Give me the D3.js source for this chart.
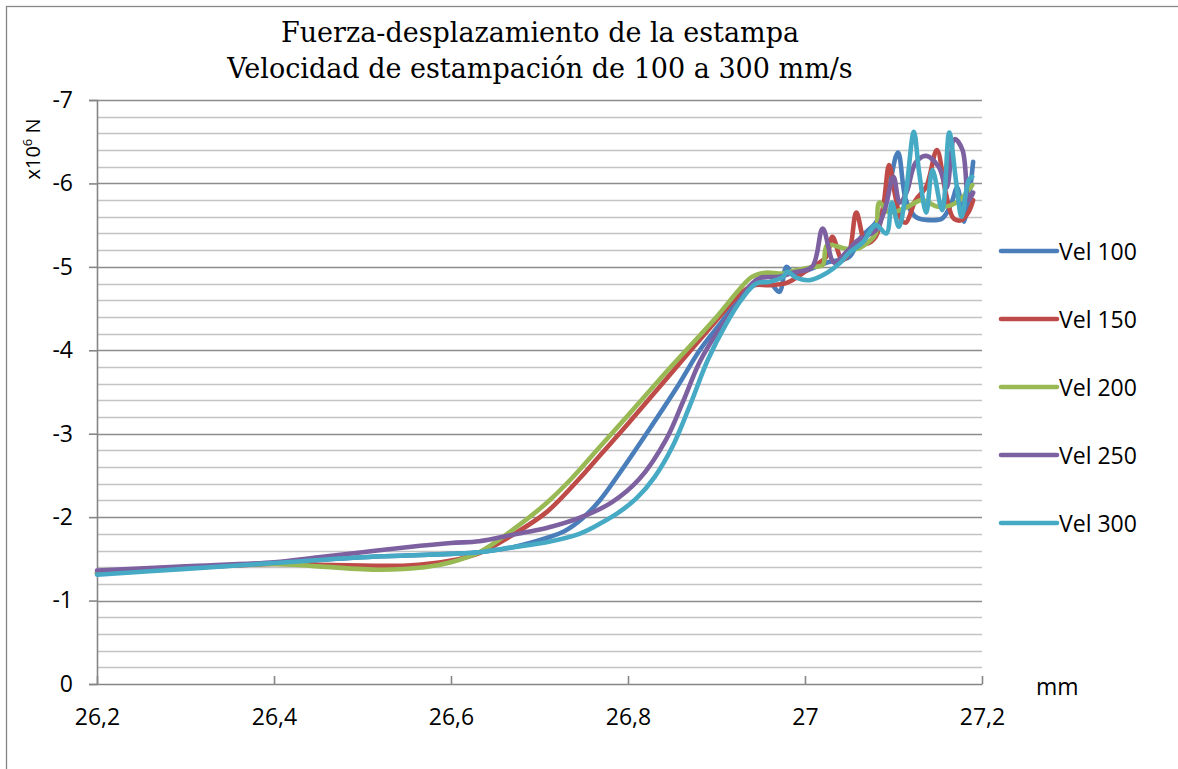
<!DOCTYPE html>
<html>
<head>
<meta charset="utf-8">
<script src="https://cdn.jsdelivr.net/npm/d3@7/dist/d3.min.js"></script>
<style>
  html, body { margin: 0; padding: 0; background: #fff; }
  svg { display: block; }
</style>
</head>
<body>
<svg id="chart" width="1178" height="769"></svg>
<script>
// Stamp force vs. displacement, one series per stamping speed (mm, x10^6 N)
const vel100 = [[26.20,-1.33],[26.30,-1.39],[26.40,-1.45],[26.50,-1.52],[26.55,-1.54],[26.60,-1.56],[26.632,-1.58],[26.67,-1.64],[26.708,-1.75],[26.728,-1.83],[26.748,-1.98],[26.768,-2.20],[26.79,-2.52],[26.824,-3.05],[26.855,-3.55],[26.881,-4.00],[26.905,-4.33],[26.926,-4.62],[26.945,-4.80],[26.96,-4.81],[26.971,-4.70],[26.979,-5.00],[26.986,-4.93],[27.00,-4.95],[27.024,-5.05],[27.05,-5.12],[27.062,-5.34],[27.08,-5.53],[27.09,-5.72],[27.105,-6.37],[27.114,-5.80],[27.125,-5.60],[27.14,-5.56],[27.155,-5.58],[27.165,-5.75],[27.172,-5.95],[27.18,-5.54],[27.19,-6.26]];
const vel150 = [[26.20,-1.33],[26.30,-1.39],[26.40,-1.44],[26.45,-1.43],[26.50,-1.42],[26.55,-1.42],[26.60,-1.48],[26.632,-1.57],[26.67,-1.79],[26.708,-2.06],[26.745,-2.46],[26.77,-2.76],[26.80,-3.12],[26.85,-3.74],[26.90,-4.36],[26.925,-4.66],[26.942,-4.78],[26.96,-4.78],[26.98,-4.81],[27.005,-4.98],[27.024,-5.12],[27.031,-5.36],[27.042,-5.08],[27.05,-5.18],[27.058,-5.65],[27.069,-5.28],[27.08,-5.36],[27.089,-5.77],[27.095,-6.22],[27.102,-5.85],[27.109,-5.56],[27.114,-5.53],[27.125,-5.80],[27.137,-5.96],[27.149,-6.40],[27.159,-5.89],[27.168,-5.58],[27.177,-5.56],[27.185,-5.66],[27.19,-5.80]];
const vel200 = [[26.20,-1.33],[26.30,-1.39],[26.40,-1.44],[26.45,-1.41],[26.52,-1.37],[26.57,-1.40],[26.60,-1.46],[26.632,-1.58],[26.67,-1.85],[26.708,-2.17],[26.736,-2.46],[26.768,-2.84],[26.80,-3.22],[26.85,-3.82],[26.90,-4.40],[26.925,-4.72],[26.94,-4.88],[26.955,-4.93],[26.975,-4.92],[26.99,-4.96],[27.01,-5.00],[27.02,-5.02],[27.025,-5.26],[27.045,-5.22],[27.06,-5.22],[27.072,-5.30],[27.08,-5.40],[27.084,-5.77],[27.095,-5.65],[27.114,-5.71],[27.132,-5.80],[27.151,-5.72],[27.171,-5.77],[27.189,-5.98]];
const vel250 = [[26.20,-1.36],[26.30,-1.41],[26.40,-1.46],[26.45,-1.52],[26.50,-1.58],[26.55,-1.64],[26.60,-1.69],[26.632,-1.71],[26.67,-1.79],[26.708,-1.87],[26.745,-1.99],[26.782,-2.18],[26.813,-2.46],[26.843,-2.93],[26.862,-3.38],[26.881,-3.86],[26.90,-4.20],[26.92,-4.50],[26.94,-4.80],[26.95,-4.87],[26.971,-4.88],[26.986,-4.93],[27.008,-5.00],[27.02,-5.46],[27.033,-5.05],[27.046,-5.17],[27.06,-5.32],[27.08,-5.44],[27.09,-5.68],[27.10,-6.08],[27.107,-5.77],[27.115,-5.90],[27.125,-6.25],[27.137,-6.33],[27.151,-6.20],[27.16,-5.95],[27.169,-6.53],[27.178,-6.40],[27.185,-5.80],[27.19,-5.89]];
const vel300 = [[26.20,-1.31],[26.30,-1.38],[26.40,-1.45],[26.50,-1.52],[26.55,-1.54],[26.60,-1.56],[26.632,-1.58],[26.67,-1.64],[26.708,-1.70],[26.745,-1.80],[26.768,-1.92],[26.79,-2.06],[26.81,-2.23],[26.83,-2.48],[26.85,-2.84],[26.87,-3.34],[26.89,-3.88],[26.91,-4.30],[26.929,-4.62],[26.945,-4.80],[26.96,-4.82],[26.975,-4.88],[26.98,-4.94],[26.99,-4.87],[27.005,-4.84],[27.025,-4.93],[27.04,-5.05],[27.05,-5.17],[27.065,-5.29],[27.08,-5.50],[27.092,-5.40],[27.098,-5.77],[27.106,-5.48],[27.114,-5.89],[27.123,-6.62],[27.129,-6.13],[27.137,-5.65],[27.144,-6.16],[27.155,-5.68],[27.163,-6.61],[27.171,-6.00],[27.177,-5.60],[27.185,-6.04],[27.189,-6.08]];

const seriesNames = ["Vel 100", "Vel 150", "Vel 200", "Vel 250", "Vel 300"];
const seriesColors = ["#4A7EBB", "#BE4B48", "#98B954", "#7D60A0", "#46AAC5"];

const xTicks = [26.2, 26.4, 26.6, 26.8, 27.0, 27.2];
const xTickLabels = ["26,2", "26,4", "26,6", "26,8", "27", "27,2"];
const yTicks = [0, -1, -2, -3, -4, -5, -6, -7];
const yTickLabels = ["0", "-1", "-2", "-3", "-4", "-5", "-6", "-7"];
const yMinorStep = 0.2;

const titleLines = ["Fuerza-desplazamiento de la estampa", "Velocidad de estampación de 100 a 300 mm/s"];
const xAxisTitle = "mm";

const svg = d3.select("#chart");
const W = 1178, H = 769;
const plot = { left: 97, right: 982, top: 100, bottom: 684 };
const sansFont = "'Open Sans', 'Liberation Sans', sans-serif";
const axisGrey = "#868686";

// outer chart frame
svg.append("rect")
  .attr("x", 6.5).attr("y", 6.5)
  .attr("width", W + 20).attr("height", H + 20)
  .attr("fill", "#fff").attr("stroke", axisGrey).attr("stroke-width", 1.3);

const x = d3.scaleLinear().domain([26.2, 27.2]).range([plot.left, plot.right]);
const y = d3.scaleLinear().domain([0, -7]).range([plot.bottom, plot.top]);

// horizontal gridlines: minor every 0.2, major on whole units
const minorVals = d3.range(1, 35).map(i => -i * yMinorStep).filter(v => Math.abs(v - Math.round(v)) > 1e-6);
svg.append("g").selectAll("line").data(minorVals).join("line")
  .attr("x1", plot.left).attr("x2", plot.right)
  .attr("y1", d => Math.round(y(d)) + 0.5).attr("y2", d => Math.round(y(d)) + 0.5)
  .attr("stroke", "#c3c3c3").attr("stroke-width", 1.6);
svg.append("g").selectAll("line").data(yTicks.filter(v => v !== 0)).join("line")
  .attr("x1", plot.left).attr("x2", plot.right)
  .attr("y1", d => Math.round(y(d)) + 0.5).attr("y2", d => Math.round(y(d)) + 0.5)
  .attr("stroke", "#8c8c8c").attr("stroke-width", 1.6);

// y axis (ticks outward, labels on the left)
const yAxis = d3.axisLeft(y).tickValues(yTicks).tickSize(8).tickPadding(16)
  .tickFormat((d, i) => yTickLabels[i]);
const gy = svg.append("g").attr("transform", `translate(${plot.left},0)`).call(yAxis);
gy.select(".domain").attr("stroke", axisGrey).attr("stroke-width", 1.6);
gy.selectAll(".tick line").attr("stroke", axisGrey).attr("stroke-width", 1.6);
gy.selectAll(".tick text").attr("font-family", sansFont).attr("font-size", 23).attr("fill", "#000");

// x axis (ticks pointing inward)
const xAxis = d3.axisBottom(x).tickValues(xTicks).tickSizeInner(-8).tickSizeOuter(0).tickPadding(0)
  .tickFormat((d, i) => xTickLabels[i]);
const gx = svg.append("g").attr("transform", `translate(0,${plot.bottom})`).call(xAxis);
gx.select(".domain").attr("stroke", axisGrey).attr("stroke-width", 1.6);
gx.selectAll(".tick line").attr("stroke", axisGrey).attr("stroke-width", 1.6);
gx.selectAll(".tick text").attr("font-family", sansFont).attr("font-size", 23).attr("fill", "#000")
  .attr("dy", null).attr("y", 41);

// series lines (smoothed)
const line = d3.line().x(d => x(d[0])).y(d => y(d[1])).curve(d3.curveCatmullRom.alpha(0.5));
const allSeries = [vel100, vel150, vel200, vel250, vel300];
svg.append("g").selectAll("path").data(allSeries).join("path")
  .attr("d", line)
  .attr("fill", "none")
  .attr("stroke", (d, i) => seriesColors[i])
  .attr("stroke-width", 4.6)
  .attr("stroke-linejoin", "round")
  .attr("stroke-linecap", "round");

// legend
const legend = svg.append("g");
const legendY = d3.scaleLinear().domain([0, 4]).range([251, 523]);
seriesNames.forEach((name, i) => {
  const ly = legendY(i);
  legend.append("line").attr("x1", 1001).attr("x2", 1057).attr("y1", ly).attr("y2", ly)
    .attr("stroke", seriesColors[i]).attr("stroke-width", 4.6).attr("stroke-linecap", "round");
  legend.append("text").attr("x", 1059).attr("y", ly + 8.5)
    .attr("font-family", sansFont).attr("font-size", 23).attr("fill", "#000").text(name);
});

// title
svg.append("g").selectAll("text").data(titleLines).join("text")
  .attr("x", 540).attr("y", (d, i) => 42 + i * 36)
  .attr("text-anchor", "middle")
  .attr("font-family", "'DejaVu Serif', serif")
  .attr("font-size", 27).attr("fill", "#000")
  .text(d => d);

// axis titles
svg.append("text").attr("x", 1036).attr("y", 695)
  .attr("font-family", sansFont).attr("font-size", 23).attr("fill", "#000").text(xAxisTitle);

const yTitle = svg.append("text")
  .attr("transform", "translate(40,149) rotate(-90)")
  .attr("text-anchor", "middle")
  .attr("font-family", sansFont).attr("font-size", 20).attr("fill", "#000");
yTitle.append("tspan").text("x10");
yTitle.append("tspan").attr("font-size", 13).attr("dy", -8).text("6");
yTitle.append("tspan").attr("dy", 8).text(" N");
</script>
</body>
</html>
